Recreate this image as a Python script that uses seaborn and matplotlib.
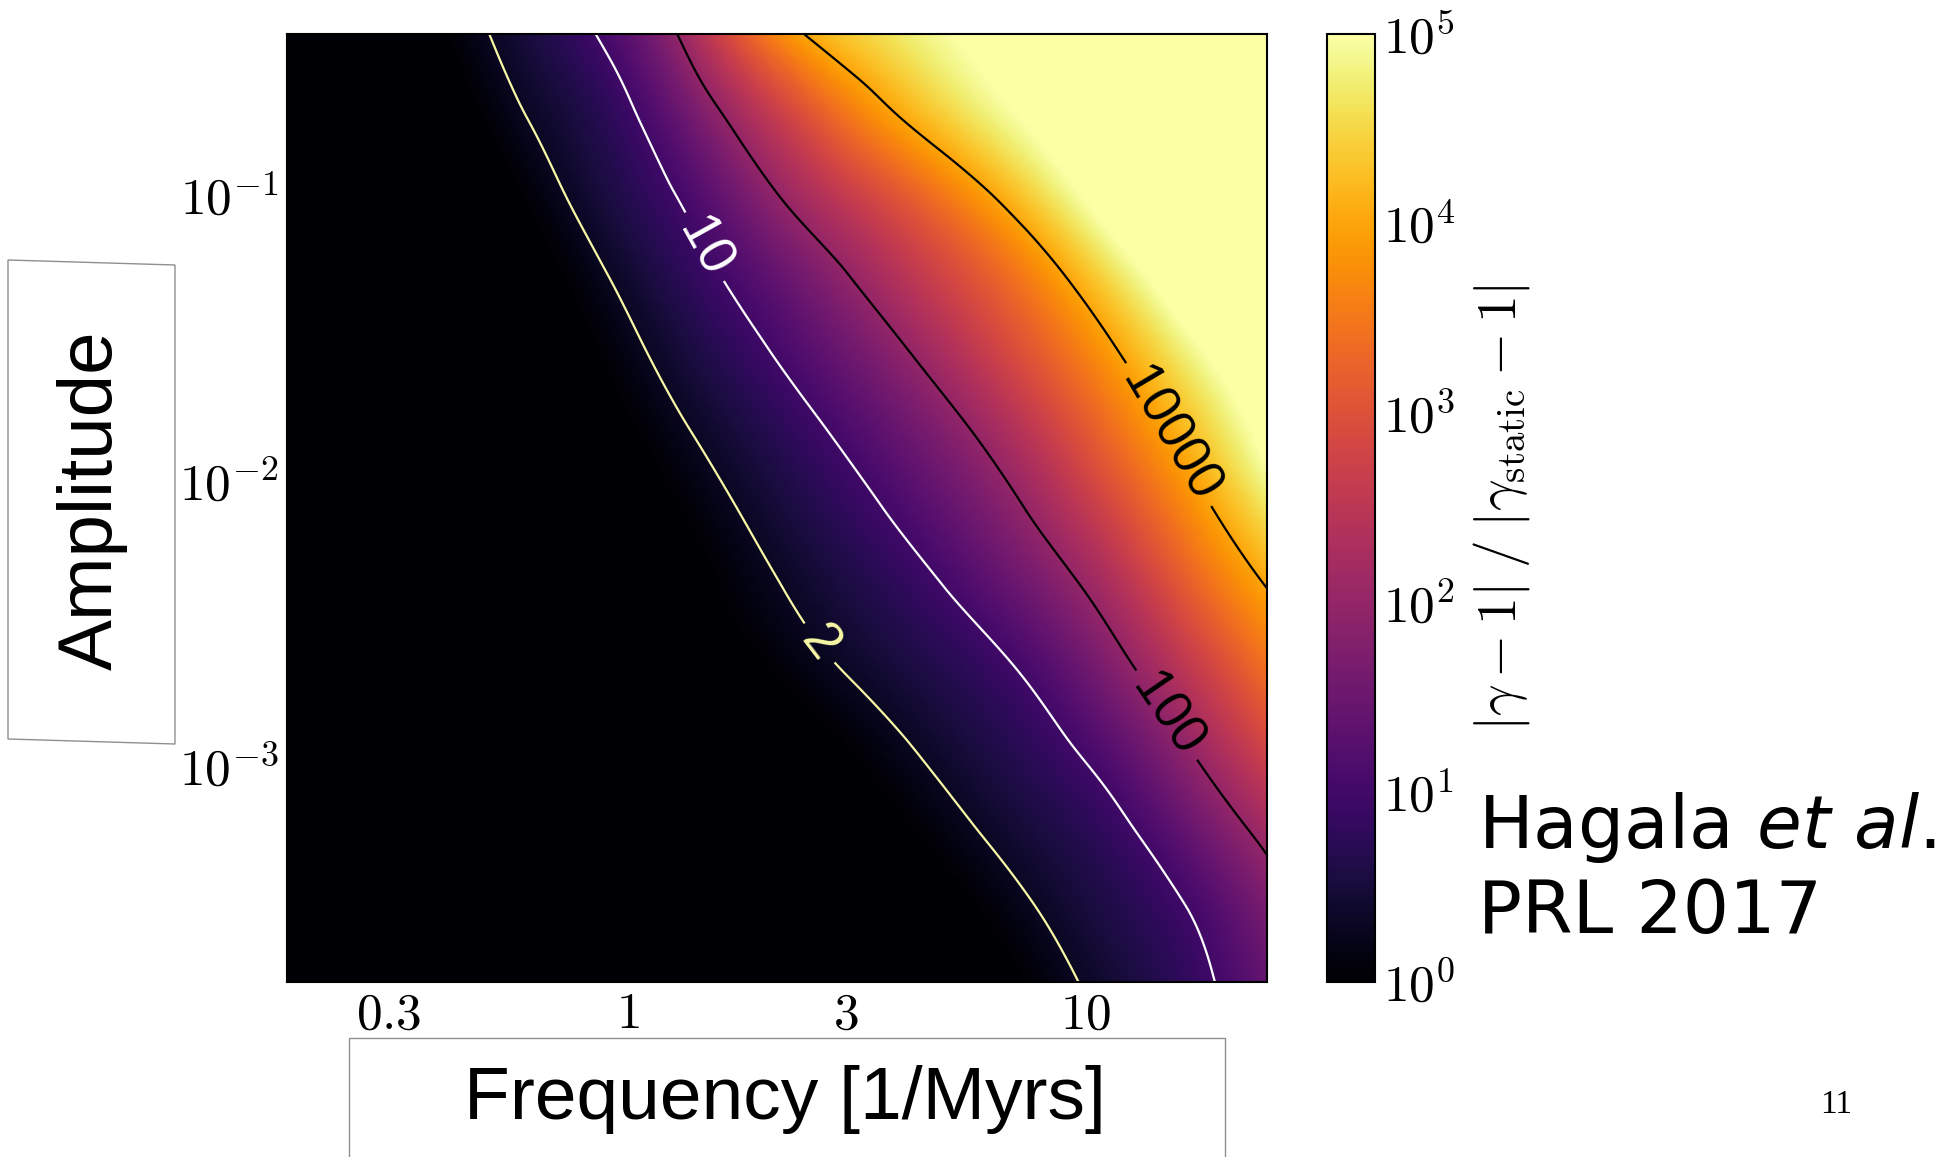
import numpy as np
import matplotlib
matplotlib.use("Agg")
import matplotlib.pyplot as plt
import matplotlib.tri as mtri
from matplotlib.colors import LogNorm
from matplotlib.patches import Polygon, Rectangle
from matplotlib.ticker import NullLocator
import seaborn as sns

# ---------------- data ----------------
# log10 of frequency [1/Myrs] at the grid columns
log_freq = [-0.744, -0.566, -0.387, -0.209, -0.030, 0.148, 0.327,
            0.505, 0.684, 0.862, 1.040, 1.219, 1.397]
# log10 of amplitude at the grid rows (top row = largest amplitude)
log_amp = [-0.432, -0.709, -0.987, -1.264, -1.541, -1.818, -2.096,
           -2.373, -2.650, -2.928, -3.205, -3.482, -3.759]
# log10 of |gamma-1| / |gamma_static-1|  (values <= 0 all show as black)
log_ratio = [
    [-1.00, -0.47, 0.05, 0.56, 1.17, 2.31, 3.68, 4.44, 4.92, 5.37, 5.78, 6.17, 6.53],
    [-1.17, -0.67, -0.16, 0.34, 0.81, 1.67, 2.68, 3.63, 4.41, 5.04, 5.59, 6.09, 6.56],
    [-1.46, -0.94, -0.42, 0.10, 0.60, 1.18, 2.01, 2.76, 3.51, 4.36, 5.25, 5.99, 6.67],
    [-1.67, -1.17, -0.66, -0.15, 0.35, 0.85, 1.44, 2.11, 2.80, 3.56, 4.52, 5.49, 6.33],
    [-1.72, -1.26, -0.80, -0.34, 0.12, 0.58, 1.05, 1.62, 2.27, 3.01, 3.84, 4.80, 5.62],
    [-1.78, -1.36, -0.94, -0.51, -0.09, 0.33, 0.73, 1.20, 1.77, 2.46, 3.30, 4.22, 5.20],
    [-1.87, -1.47, -1.08, -0.69, -0.29, 0.10, 0.49, 0.87, 1.36, 1.98, 2.76, 3.68, 4.66],
    [-1.83, -1.48, -1.12, -0.77, -0.42, -0.07, 0.28, 0.61, 0.98, 1.52, 2.21, 3.13, 4.01],
    [-1.87, -1.55, -1.23, -0.90, -0.58, -0.26, 0.06, 0.38, 0.67, 1.05, 1.71, 2.54, 3.43],
    [-2.38, -2.03, -1.68, -1.32, -0.97, -0.62, -0.27, 0.08, 0.42, 0.74, 1.22, 1.98, 2.83],
    [-2.67, -2.31, -1.96, -1.61, -1.25, -0.90, -0.55, -0.19, 0.16, 0.50, 0.83, 1.45, 2.22],
    [-3.16, -2.78, -2.40, -2.02, -1.64, -1.26, -0.89, -0.51, -0.13, 0.25, 0.60, 1.01, 1.71],
    [-3.71, -3.30, -2.88, -2.47, -2.06, -1.64, -1.23, -0.81, -0.40, 0.01, 0.42, 0.81, 1.42],
]
contour_levels = [2, 10, 100, 10000]
contour_colors = ["#f8f8a6", "white", "black", "black"]
# label anchor points (frequency, amplitude)
label_freq = [2.59, 1.47, 15.1, 15.3]
label_amp = [2.65e-3, 6.61e-2, 1.51e-3, 1.46e-2]
xtick_vals = [0.3, 1, 3, 10]
xtick_labels = ["$0.3$", "$1$", "$3$", "$10$"]
ytick_vals = [1e-3, 1e-2, 1e-1]
ytick_labels = [r"$10^{-3}$", r"$10^{-2}$", r"$10^{-1}$"]
cbar_vals = [1, 10, 100, 1e3, 1e4, 1e5]
cbar_labels = [r"$10^{0}$", r"$10^{1}$", r"$10^{2}$", r"$10^{3}$", r"$10^{4}$", r"$10^{5}$"]

# ---------------- style ----------------
sns.set_theme(style="ticks")
plt.rcParams["font.family"] = ["Liberation Sans", "DejaVu Sans"]
plt.rcParams["mathtext.fontset"] = "cm"
for k in ["text.color", "axes.labelcolor", "xtick.color", "ytick.color", "axes.edgecolor"]:
    plt.rcParams[k] = "black"

W, H = 1956, 1157
fig = plt.figure(figsize=(W / 100, H / 100), dpi=100)
fig.patch.set_facecolor("white")


def fx(px):
    return px / W


def fy(py):
    return 1 - py / H


ax = fig.add_axes([fx(287), fy(982), (1267 - 287) / W, (982 - 34) / H])
cax = fig.add_axes([fx(1327), fy(982), 48 / W, (982 - 34) / H])

# ---------------- field ----------------
U, V = np.meshgrid(log_freq, log_amp)
Z = np.array(log_ratio)
nr, nc = Z.shape
idx = np.arange(nr * nc).reshape(nr, nc)
triangles = []
for r in range(nr - 1):
    for c in range(nc - 1):
        a, b, d, e = idx[r, c], idx[r, c + 1], idx[r + 1, c + 1], idx[r + 1, c]
        # diagonals follow the direction of the iso-lines
        triangles.append([a, b, d])
        triangles.append([a, d, e])
tri = mtri.Triangulation(U.ravel(), V.ravel(), np.array(triangles))
interp = mtri.CubicTriInterpolator(tri, Z.ravel(), kind="min_E")
eps = 1e-7
uf = np.linspace(min(log_freq) + eps, max(log_freq) - eps, 300)
vf = np.linspace(min(log_amp) + eps, max(log_amp) - eps, 300)
UF, VF = np.meshgrid(uf, vf)
ZF = np.ma.filled(interp(UF, VF), -1.0)

cmap = sns.color_palette("inferno", as_cmap=True)
norm = LogNorm(vmin=1, vmax=1e5)

ax.set_xscale("log")
ax.set_yscale("log")
ax.pcolormesh(10 ** UF, 10 ** VF, 10 ** ZF, shading="gouraud", cmap=cmap, norm=norm)
cs = ax.contour(10 ** UF, 10 ** VF, ZF, levels=np.log10(contour_levels),
                colors=contour_colors, linewidths=1.6)
fmt = {lev: str(v) for lev, v in zip(cs.levels, contour_levels)}
ax.clabel(cs, fmt=fmt, inline=True, fontsize=38, inline_spacing=10,
          manual=list(zip(label_freq, label_amp)))

ax.set_xlim(10 ** log_freq[0], 10 ** log_freq[-1])
ax.set_ylim(10 ** log_amp[-1], 10 ** log_amp[0])
ax.set_xticks(xtick_vals, xtick_labels)
ax.set_yticks(ytick_vals, ytick_labels)
ax.xaxis.set_minor_locator(NullLocator())
ax.yaxis.set_minor_locator(NullLocator())
ax.tick_params(direction="in", length=10, width=1.2, top=True, right=True,
               labelsize=37, pad=6, color="black")
for s in ax.spines.values():
    s.set_linewidth(1.5)
    s.set_color("black")

# ---------------- colorbar ----------------
sm = plt.cm.ScalarMappable(norm=norm, cmap=cmap)
cb = fig.colorbar(sm, cax=cax)
cb.set_ticks(cbar_vals, labels=cbar_labels)
cax.yaxis.set_minor_locator(NullLocator())
cax.tick_params(direction="in", length=10, width=1.2, labelsize=37, pad=6, color="black")
cb.outline.set_linewidth(1.5)
cb.outline.set_edgecolor("black")
fig.text(fx(1502), fy(508), r"$|\gamma-1|\;/\;|\gamma_{\mathrm{static}}-1|$",
         rotation=90, ha="center", va="center", fontsize=40)

# ---------------- slide decorations ----------------
amp_box = Polygon([(fx(8), fy(260)), (fx(175), fy(265)), (fx(175), fy(744)), (fx(8), fy(739))],
                  closed=True, fill=False, edgecolor="#8f8f8f", linewidth=1.0,
                  transform=fig.transFigure)
fig.add_artist(amp_box)
fig.text(fx(92), fy(500), "Amplitude", rotation=90, ha="center", va="center",
         fontsize=55, family="Liberation Sans")

freq_box = Rectangle((fx(349), fy(1170)), (1225 - 349) / W, (1170 - 1038) / H,
                     fill=False, edgecolor="#8f8f8f", linewidth=1.0,
                     transform=fig.transFigure)
fig.add_artist(freq_box)
fig.text(fx(785), fy(1100), "Frequency [1/Myrs]", ha="center", va="center",
         fontsize=54, family="Liberation Sans")

fig.text(fx(1478), fy(848), r"Hagala $\mathit{et\ al.}$", fontsize=52.5,
         family="DejaVu Sans", math_fontfamily="dejavusans", va="baseline")
fig.text(fx(1478), fy(933), "PRL 2017", fontsize=52.5, family="DejaVu Sans", va="baseline")
fig.text(fx(1820), fy(1113), "11", fontsize=24, family="Liberation Serif", va="baseline")

fig.savefig("out.png", dpi=100, facecolor="white")
